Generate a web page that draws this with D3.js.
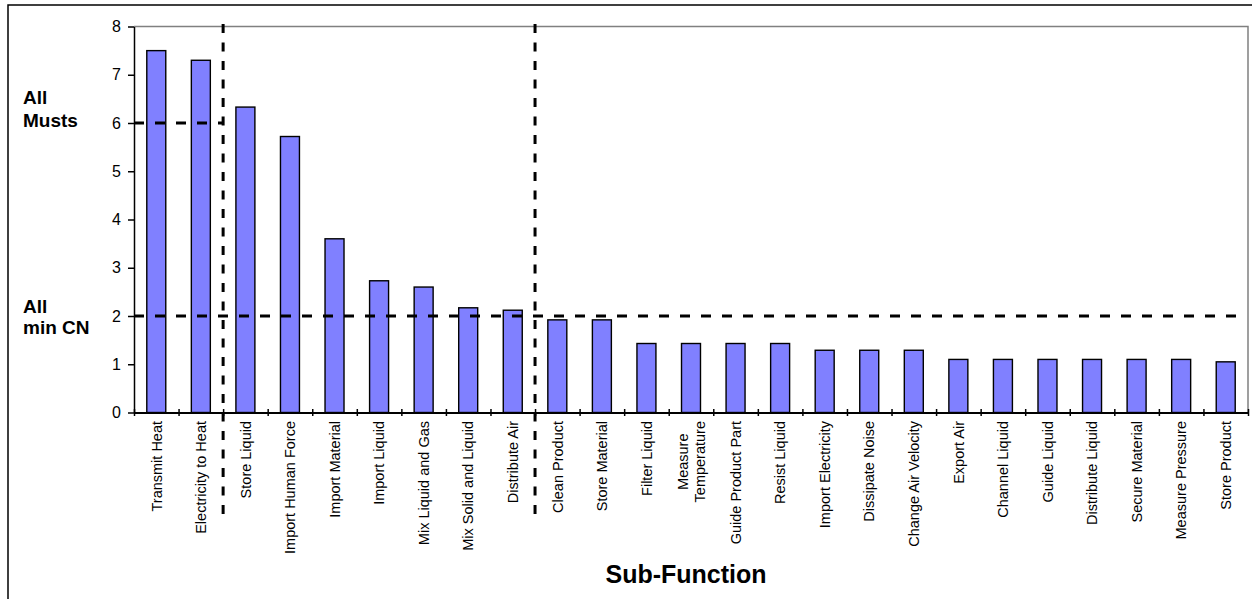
<!DOCTYPE html>
<html>
<head>
<meta charset="utf-8">
<script src="https://cdn.jsdelivr.net/npm/d3@7"></script>
<style>
  html, body { margin: 0; padding: 0; background: #fff; }
  svg { display: block; font-family: "Liberation Sans", Arial, sans-serif; }
</style>
</head>
<body>
<svg id="chart" width="1252" height="599"></svg>
<script>
// Sub-function scores, sorted from highest to lowest
const subFunctions = [
  "Transmit Heat", "Electricity to Heat", "Store Liquid", "Import Human Force",
  "Import Material", "Import Liquid", "Mix Liquid and Gas", "Mix Solid and Liquid",
  "Distribute Air", "Clean Product", "Store Material", "Filter Liquid",
  "Measure\nTemperature", "Guide Product Part", "Resist Liquid", "Import Electricity",
  "Dissipate Noise", "Change Air Velocity", "Export Air", "Channel Liquid",
  "Guide Liquid", "Distribute Liquid", "Secure Material", "Measure Pressure",
  "Store Product"
];
const scores = [
  7.5, 7.3, 6.33, 5.72,
  3.6, 2.73, 2.6, 2.17,
  2.12, 1.92, 1.92, 1.43,
  1.43, 1.43, 1.43, 1.29,
  1.29, 1.29, 1.1, 1.1,
  1.1, 1.1, 1.1, 1.1,
  1.05
];
const yTicks = [0, 1, 2, 3, 4, 5, 6, 7, 8];
// Threshold levels and the groups they separate
const allMustsLevel = 6;
const allMinCNLevel = 2;
const groupBreaks = [2, 9]; // index of first sub-function in each following group

const svg = d3.select("#chart");
const plotLeft = 134, plotRight = 1248, plotTop = 26.5, plotBottom = 412.5;

const x = d3.scaleBand()
  .domain(subFunctions)
  .range([plotLeft, plotRight])
  .paddingInner(0.574)
  .paddingOuter(0.287);
const step = x.step();
const boundary = i => plotLeft + i * step;

const y = d3.scaleLinear().domain([0, 8]).range([plotBottom, plotTop]);

// outer chart frame
svg.append("rect")
  .attr("x", 8).attr("y", 5).attr("width", 1400).attr("height", 800)
  .attr("fill", "none").attr("stroke", "#000").attr("stroke-width", 1.5);

// plot area frame (top and right edges)
svg.append("path")
  .attr("d", `M${plotLeft},${plotTop}H${plotRight}V${plotBottom}`)
  .attr("fill", "none").attr("stroke", "#808080").attr("stroke-width", 1.5);

// bars
svg.append("g").selectAll("rect")
  .data(subFunctions)
  .join("rect")
  .attr("x", d => x(d))
  .attr("y", (d, i) => y(scores[i]))
  .attr("width", x.bandwidth())
  .attr("height", (d, i) => y(0) - y(scores[i]))
  .attr("fill", "#8080ff")
  .attr("stroke", "#000")
  .attr("stroke-width", 1.4);

// y axis
const yAxis = svg.append("g")
  .attr("transform", `translate(${plotLeft},0)`)
  .call(d3.axisLeft(y).tickValues(yTicks).tickSize(6).tickSizeOuter(0).tickPadding(7));
yAxis.attr("font-size", null).attr("font-family", null);
yAxis.select(".domain").attr("stroke", "#000").attr("stroke-width", 1.5);
yAxis.selectAll(".tick line").attr("stroke", "#000").attr("stroke-width", 1.5);
yAxis.selectAll(".tick text")
  .style("font-size", "16px").attr("fill", "#000");

// x axis with tick marks on category boundaries crossing the axis line
const xBoundaries = d3.scaleLinear().domain([0, subFunctions.length]).range([plotLeft, plotRight]);
const xAxis = svg.append("g")
  .attr("transform", `translate(0,${plotBottom})`)
  .call(d3.axisBottom(xBoundaries).tickValues(d3.range(subFunctions.length + 1))
    .tickFormat("").tickSizeOuter(0));
xAxis.select(".domain").attr("stroke", "#000").attr("stroke-width", 2);
xAxis.selectAll(".tick line").attr("y1", -3.5).attr("y2", 3.5)
  .attr("stroke", "#000").attr("stroke-width", 1.5);

// category labels, rotated
const labelTop = 421;
const labels = svg.append("g").selectAll("g")
  .data(subFunctions)
  .join("g");
labels.each(function (d) {
  const g = d3.select(this);
  const lines = d.split("\n");
  const lh = 17;
  const texts = lines.map(ln => g.append("text")
    .text(ln)
    .style("font-size", "14.5px")
    .attr("fill", "#000")
    .attr("text-anchor", "middle"));
  const maxW = d3.max(texts, t => t.node().getComputedTextLength());
  const cx = x(d) + x.bandwidth() / 2;
  const cy = labelTop + maxW / 2;
  texts.forEach((t, k) => {
    const off = (k - (lines.length - 1) / 2) * lh;
    t.attr("transform", `translate(${cx + off},${cy}) rotate(-90)`)
      .attr("dy", "0.36em");
  });
});

// threshold lines
const dashGroup = svg.append("g")
  .attr("stroke", "#000").attr("stroke-width", 3).attr("fill", "none");
dashGroup.append("line")
  .attr("x1", plotLeft).attr("x2", boundary(groupBreaks[0]))
  .attr("y1", y(allMustsLevel)).attr("y2", y(allMustsLevel))
  .attr("stroke-dasharray", "10,11");
dashGroup.append("line")
  .attr("x1", plotLeft).attr("x2", plotRight - 6)
  .attr("y1", y(allMinCNLevel)).attr("y2", y(allMinCNLevel))
  .attr("stroke-dasharray", "10,11");
groupBreaks.forEach(b => {
  dashGroup.append("line")
    .attr("x1", boundary(b)).attr("x2", boundary(b))
    .attr("y1", 24).attr("y2", 518)
    .attr("stroke-dasharray", "9,9.5");
});

// threshold captions
const caption = (lines, baseY, lh) => {
  const t = svg.append("text")
    .attr("x", 23).attr("y", baseY)
    .style("font-size", "19px").attr("font-weight", "bold").attr("fill", "#000");
  lines.forEach((ln, k) => t.append("tspan").attr("x", 23).attr("dy", k ? lh : 0).text(ln));
};
caption(["All", "Musts"], 104, 22.5);
caption(["All", "min CN"], 313, 20.5);

// axis title
svg.append("text")
  .attr("x", (plotLeft + plotRight) / 2 - 5).attr("y", 583)
  .attr("text-anchor", "middle")
  .style("font-size", "25px").attr("font-weight", "bold").attr("fill", "#000")
  .text("Sub-Function");
</script>
</body>
</html>
